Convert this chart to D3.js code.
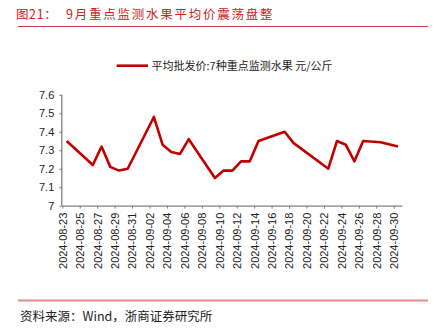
<!DOCTYPE html>
<html>
<head>
<meta charset="utf-8">
<script src="https://cdn.jsdelivr.net/npm/d3@7"></script>
<style>
html,body{margin:0;padding:0;background:#fff;}
svg{display:block;}
</style>
</head>
<body>
<svg id="c" width="434" height="333"></svg>
<script>
const dates = ["2024-08-23","2024-08-26","2024-08-27","2024-08-28","2024-08-29","2024-08-30",
  "2024-09-02","2024-09-03","2024-09-04","2024-09-05","2024-09-06","2024-09-09","2024-09-10",
  "2024-09-11","2024-09-12","2024-09-13","2024-09-14","2024-09-17","2024-09-18","2024-09-22",
  "2024-09-23","2024-09-24","2024-09-25","2024-09-26","2024-09-28","2024-09-30"];
const values = [7.35,7.22,7.32,7.21,7.19,7.20,
  7.48,7.33,7.29,7.28,7.36,7.15,7.19,
  7.19,7.24,7.24,7.35,7.40,7.34,7.20,
  7.35,7.33,7.24,7.35,7.343,7.32];
const tickLabels = ["2024-08-23","2024-08-25","2024-08-27","2024-08-29","2024-08-31","2024-09-02",
  "2024-09-04","2024-09-06","2024-09-08","2024-09-10","2024-09-12","2024-09-14","2024-09-16",
  "2024-09-18","2024-09-20","2024-09-22","2024-09-24","2024-09-26","2024-09-28","2024-09-30"];
const yTicks = [7,7.1,7.2,7.3,7.4,7.5,7.6];
const seriesName = "平均批发价:7种重点监测水果 元/公斤";
const titlePrefix = "图21：";
const titleText = "9月重点监测水果平均价震荡盘整";
const sourceText = "资料来源：Wind，浙商证券研究所";

const svg = d3.select("#c");
const parse = d3.utcParse("%Y-%m-%d");
const fmt = d3.utcFormat("%Y-%m-%d");
const sans = "'Liberation Sans', Arial, sans-serif";
const cjk = "'Noto Sans CJK SC', sans-serif";

// title
svg.append("text").attr("x",16).attr("y",19).attr("fill","#cc2222")
  .attr("font-family",cjk).attr("font-size",12.5).attr("letter-spacing","0.6px").text(titlePrefix);
svg.append("text").attr("x",66).attr("y",19).attr("fill","#cc2222")
  .attr("font-family",cjk).attr("font-size",12.5).attr("letter-spacing","1.75px").text(titleText);
svg.append("line").attr("x1",18).attr("x2",428).attr("y1",26.5).attr("y2",26.5)
  .attr("stroke","#d43a3a").attr("stroke-width",1);

// scales
const x = d3.scaleUtc().domain([parse("2024-08-23"), parse("2024-10-01")]).range([62.3, 402.4]);
const y = d3.scaleLinear().domain([7,7.6]).range([205.7, 94.8]);
const half = 12*3600*1000;

// axes
const axisColor = "#808080";
const yAxis = svg.append("g").attr("transform","translate(62.3,0)")
  .call(d3.axisLeft(y).tickValues(yTicks).tickSize(3).tickPadding(5).tickFormat(d3.format("~g")));
const xAxis = svg.append("g").attr("transform","translate(0,205.7)")
  .call(d3.axisBottom(x).tickValues(tickLabels.map(parse)).tickSize(3).tickFormat(fmt));
[yAxis,xAxis].forEach(g=>{
  g.select(".domain").attr("stroke",axisColor).attr("stroke-width",1.3);
  g.selectAll(".tick line").attr("stroke",axisColor).attr("stroke-width",1);
  g.selectAll("text").attr("font-family",sans).attr("font-size",11).attr("fill","#222");
});
xAxis.select(".domain").attr("d","M62.3,0.5H402.4");
yAxis.select(".domain").attr("d","M-0.5,205.7V94.8");
xAxis.selectAll(".tick text")
  .attr("transform","rotate(-90)")
  .attr("text-anchor","end")
  .attr("x",-7).attr("y",0).attr("dy","0.35em");

// line
const data = dates.map((d,i)=>({date:new Date(parse(d).getTime()+half), v:values[i]}));
svg.append("path").datum(data)
  .attr("fill","none").attr("stroke","#c00000").attr("stroke-width",2.6)
  .attr("stroke-linejoin","round")
  .attr("d", d3.line().x(d=>x(d.date)).y(d=>y(d.v)));

// legend
svg.append("line").attr("x1",116.7).attr("x2",148).attr("y1",65.7).attr("y2",65.7)
  .attr("stroke","#c00000").attr("stroke-width",2.6);
svg.append("text").attr("x",151.5).attr("y",69.5).attr("font-family",cjk)
  .attr("font-size",11).attr("fill","#222").text(seriesName);

// bottom
svg.append("line").attr("x1",18).attr("x2",428).attr("y1",300.5).attr("y2",300.5)
  .attr("stroke","#e58a8a").attr("stroke-width",2);
svg.append("text").attr("x",20).attr("y",320.5).attr("font-family",cjk)
  .attr("font-size",12.5).attr("fill","#222").text(sourceText);
</script>
</body>
</html>
